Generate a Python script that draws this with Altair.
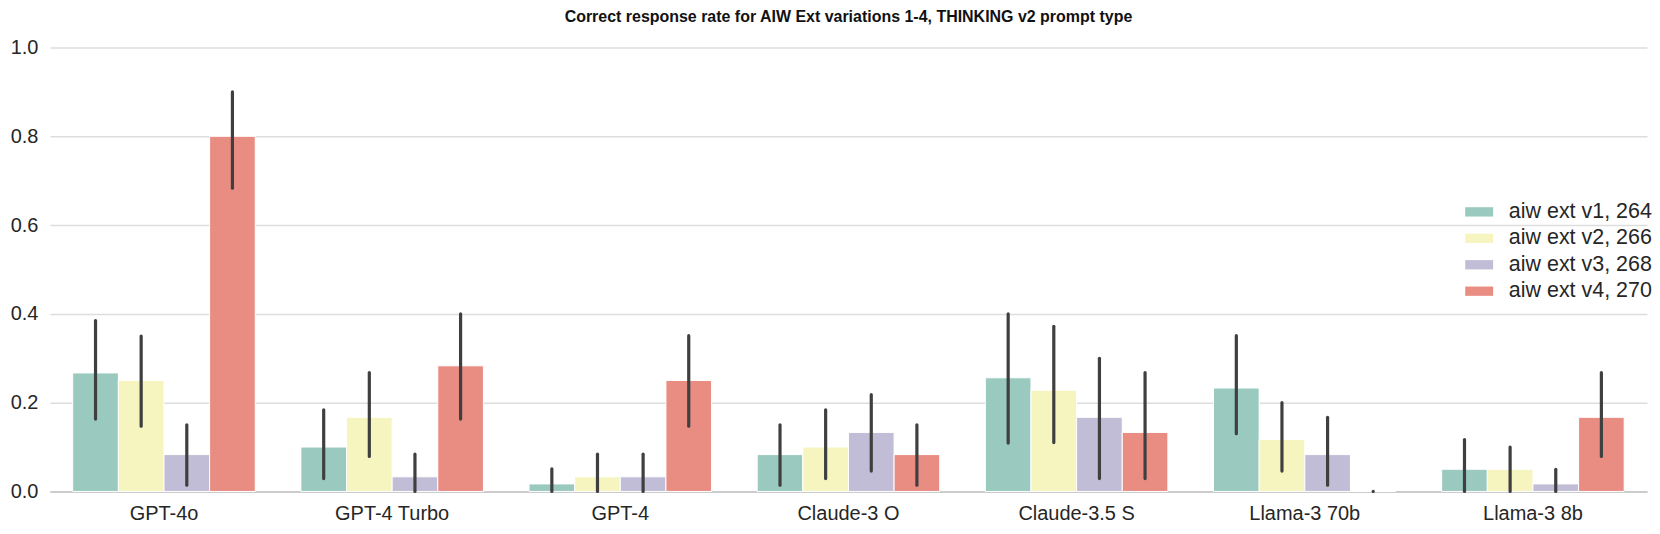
import altair as alt
import pandas as pd

models = ["GPT-4o", "GPT-4 Turbo", "GPT-4", "Claude-3 O", "Claude-3.5 S", "Llama-3 70b", "Llama-3 8b"]
variations = ["aiw ext v1, 264", "aiw ext v2, 266", "aiw ext v3, 268", "aiw ext v4, 270"]
colors = ["#99c9bf", "#f6f5bf", "#c1bdd6", "#e98d83"]

v1 = [0.267, 0.100, 0.017, 0.083, 0.256, 0.233, 0.050]
v1_lo = [0.163, 0.029, 0.000, 0.014, 0.109, 0.130, 0.000]
v1_hi = [0.385, 0.184, 0.051, 0.150, 0.400, 0.351, 0.117]

v2 = [0.250, 0.167, 0.033, 0.100, 0.228, 0.117, 0.050]
v2_lo = [0.147, 0.079, 0.000, 0.029, 0.110, 0.046, 0.000]
v2_hi = [0.350, 0.268, 0.084, 0.184, 0.372, 0.200, 0.100]

v3 = [0.083, 0.033, 0.033, 0.133, 0.167, 0.083, 0.017]
v3_lo = [0.014, 0.000, 0.000, 0.046, 0.029, 0.014, 0.000]
v3_hi = [0.150, 0.084, 0.084, 0.218, 0.300, 0.167, 0.050]

v4 = [0.800, 0.283, 0.250, 0.083, 0.133, 0.000, 0.167]
v4_lo = [0.683, 0.163, 0.147, 0.014, 0.029, 0.000, 0.079]
v4_hi = [0.900, 0.400, 0.351, 0.150, 0.268, 0.000, 0.268]

y_ticks = [0.0, 0.2, 0.4, 0.6, 0.8, 1.0]

rows = []
for var, vals, los, his in zip(variations, [v1, v2, v3, v4], [v1_lo, v2_lo, v3_lo, v4_lo], [v1_hi, v2_hi, v3_hi, v4_hi]):
    for m, v, lo, hi in zip(models, vals, los, his):
        rows.append({"model": m, "variation": var, "rate": v, "lo": lo, "hi": hi})
df = pd.DataFrame(rows)

FONT = "Liberation Sans"

x_enc = alt.X("model:N", sort=models,
              scale=alt.Scale(paddingInner=0.2, paddingOuter=0.1),
              axis=alt.Axis(title=None, labelAngle=0, ticks=False, grid=False,
                            labelFontSize=20, labelColor="#262626", labelPadding=12,
                            domainColor="#cccccc", domainWidth=2, labelFont=FONT))
xoff = alt.XOffset("variation:N", sort=variations, scale=alt.Scale(paddingInner=0, paddingOuter=0))

bars = alt.Chart(df).mark_bar(stroke="white", strokeWidth=1).encode(
    x=x_enc,
    xOffset=xoff,
    y=alt.Y("rate:Q", scale=alt.Scale(domain=[0, 1], nice=False),
            axis=alt.Axis(title=None, values=y_ticks, format=".1f", domain=False, ticks=False,
                          labelFontSize=20, labelColor="#262626", labelPadding=12,
                          gridColor="#dddddd", gridWidth=1.5, labelFont=FONT,
                          minExtent=42, maxExtent=42)),
    color=alt.Color("variation:N", sort=variations,
                    scale=alt.Scale(domain=variations, range=colors),
                    legend=alt.Legend(title=None, orient="none", legendX=1422, legendY=154,
                                      labelFontSize=21.5, labelFont=FONT, labelColor="#262626",
                                      symbolType="M-1.5,-0.5H1.5V0.5H-1.5Z", symbolSize=348,
                                      symbolStrokeWidth=0, symbolOpacity=1,
                                      labelOffset=19, rowPadding=3.5, padding=0)),
)

errs = alt.Chart(df).mark_rule(color="#3f3f3f", strokeWidth=3.2, strokeCap="round").encode(
    x=alt.X("model:N", sort=models),
    xOffset=xoff,
    y=alt.Y("lo:Q"),
    y2=alt.Y2("hi:Q"),
)

chart = alt.layer(bars, errs).properties(
    width=1601, height=445,
    padding={"left": 0, "top": 0, "right": 0, "bottom": 0},
    title=alt.TitleParams("Correct response rate for AIW Ext variations 1-4, THINKING v2 prompt type",
                          fontSize=16, font=FONT, fontWeight="bold", color="#111111",
                          anchor="middle", offset=13),
    background="white",
).configure_view(stroke=None)

chart.save("out.html", embed_options={"renderer": "svg", "actions": False})
